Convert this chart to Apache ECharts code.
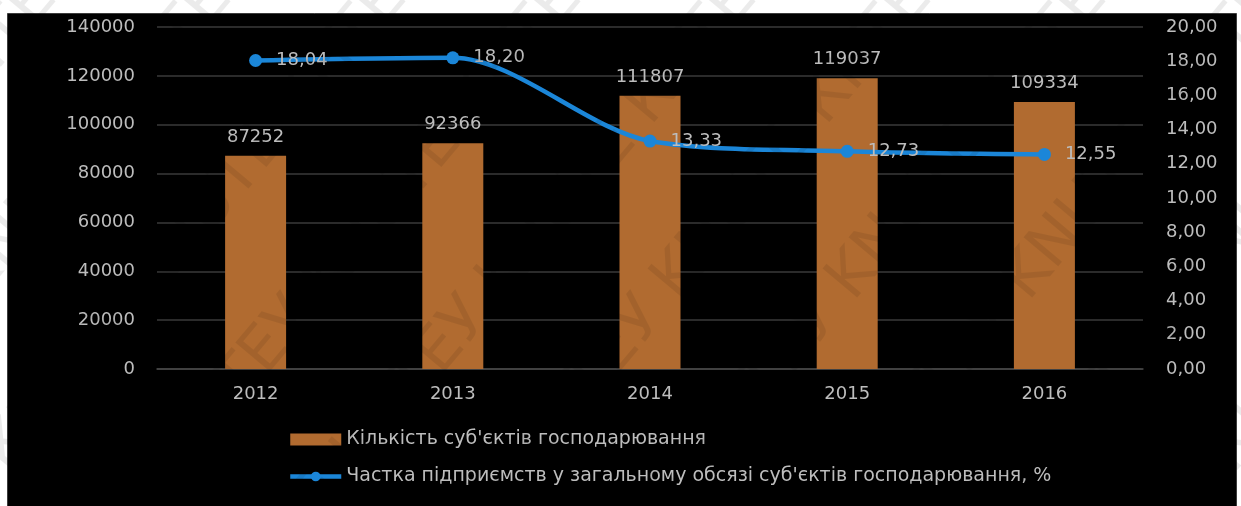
<!DOCTYPE html>
<html>
<head>
<meta charset="utf-8">
<script src="https://cdn.jsdelivr.net/npm/echarts@6/dist/echarts.min.js"></script>
<style>
  html, body { margin: 0; padding: 0; background: #ffffff; }
  #chart { width: 1241px; height: 506px; }
</style>
</head>
<body>
<div id="chart"></div>
<script>
// Business entities by year and the share of enterprises among them
const years = ['2012', '2013', '2014', '2015', '2016'];
const entityCounts = [87252, 92366, 111807, 119037, 109334];
const enterpriseShare = [18.04, 18.20, 13.33, 12.73, 12.55];

const countName = "Кількість суб'єктів господарювання";
const shareName = "Частка підприємств у загальному обсязі суб'єктів господарювання, %";

const watermarkText = 'KNUTE КНТЕУ KNUTE КНТЕУ KNUTE КНТЕУ KNUTE КНТЕУ';

const textColor = '#bdbdbd';
const font = 'DejaVu Sans';
const comma = v => v.toFixed(2).replace('.', ',');

// dark panel behind the plot, then a faint diagonal watermark that only darkens
const graphics = [{
  type: 'rect',
  shape: { x: 7.5, y: 13.5, width: 1229, height: 495 },
  style: { fill: '#000000', stroke: '#3c3c3c', lineWidth: 1 },
  z: -10,
  silent: true
}];
for (let i = -8; i < 14; i++) {
  graphics.push({
    type: 'text',
    x: i * 175,
    y: 620,
    rotation: 50 * Math.PI / 180,
    style: {
      text: watermarkText,
      fontSize: 62,
      fontFamily: 'DejaVu Sans',
      fill: 'rgba(0,0,0,0.08)'
    },
    z: 100,
    silent: true
  });
}

const chart = echarts.init(document.getElementById('chart'), null, { renderer: 'canvas' });
chart.setOption({
  backgroundColor: '#ffffff',
  animation: false,
  textStyle: { fontFamily: font },
  graphic: graphics,
  grid: { left: 157, right: 98, top: 27, bottom: 137 },
  legend: {
    orient: 'vertical',
    left: 283,
    top: 425,
    itemWidth: 51,
    itemHeight: 12,
    itemGap: 18,
    textStyle: { color: textColor, fontSize: 19, fontFamily: font },
    data: [
      { name: countName, icon: 'rect' },
      { name: shareName, lineStyle: { width: 4.5 } }
    ]
  },
  xAxis: {
    type: 'category',
    data: years,
    axisLine: { lineStyle: { color: '#4a4a4a', width: 1.5 } },
    axisTick: { show: false },
    axisLabel: { color: textColor, fontSize: 18, margin: 16 }
  },
  yAxis: [
    {
      type: 'value',
      min: 0,
      max: 140000,
      interval: 20000,
      axisLine: { show: false },
      axisTick: { show: false },
      axisLabel: { color: textColor, fontSize: 18, margin: 22, formatter: v => String(v) },
      splitLine: { lineStyle: { color: '#3a3a3a', width: 1.5 } }
    },
    {
      type: 'value',
      min: 0,
      max: 20,
      interval: 2,
      axisLine: { show: false },
      axisTick: { show: false },
      splitLine: { show: false },
      axisLabel: { color: textColor, fontSize: 18, margin: 23, formatter: comma }
    }
  ],
  series: [
    {
      name: countName,
      type: 'bar',
      data: entityCounts,
      barWidth: 61,
      itemStyle: { color: '#b16b30' },
      label: {
        show: true,
        position: 'top',
        distance: 10,
        color: textColor,
        fontSize: 18
      }
    },
    {
      name: shareName,
      type: 'line',
      yAxisIndex: 1,
      data: enterpriseShare,
      smooth: 0.3,
      smoothMonotone: 'none',
      symbol: 'circle',
      symbolSize: 13,
      lineStyle: { color: '#1b86d8', width: 4.5 },
      itemStyle: { color: '#1b86d8' },
      label: {
        show: true,
        position: 'right',
        distance: 14,
        color: textColor,
        fontSize: 18,
        formatter: p => comma(p.value)
      }
    }
  ]
});
</script>
</body>
</html>
